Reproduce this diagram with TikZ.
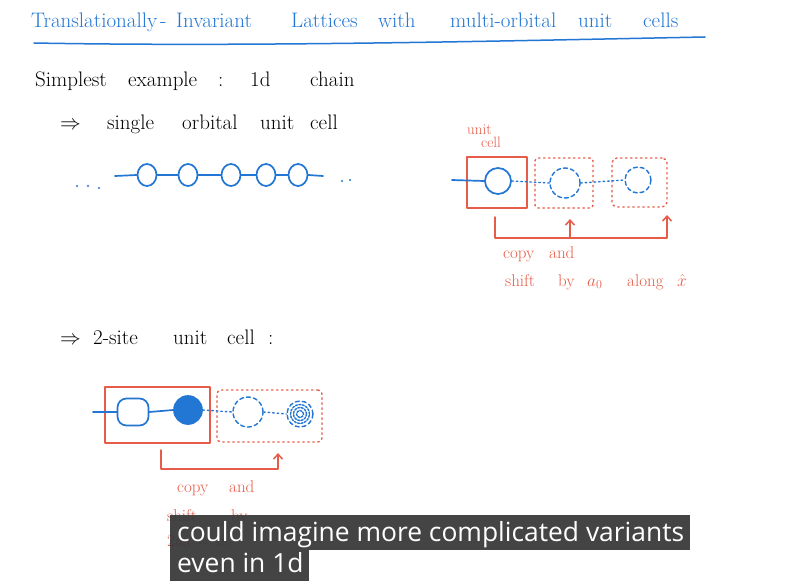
\documentclass[tikz,border=0pt]{standalone}
\usepackage{fontspec}
\newfontfamily\subfont{Open Sans}
\usetikzlibrary{arrows.meta,shapes.geometric}
\definecolor{penblue}{RGB}{34,118,212}
\definecolor{penred}{RGB}{230,92,72}
\definecolor{subbg}{RGB}{58,58,58}
\tikzset{
  hwb/.style={anchor=base west, inner sep=0pt, text=penblue, font=\fontsize{21}{25}\selectfont},
  hwk/.style={anchor=base west, inner sep=0pt, text=black, font=\fontsize{21}{24}\selectfont},
  hwr/.style={anchor=base west, inner sep=0pt, text=penred, font=\fontsize{17}{20}\selectfont},
  hwrs/.style={anchor=base west, inner sep=0pt, text=penred, font=\fontsize{15}{17}\selectfont},
  pen/.style={draw=penblue, line width=1.7pt, line cap=round, line join=round},
  penr/.style={draw=penred, line width=1.5pt, line cap=round, line join=round},
  dotb/.style={draw=penblue, line width=1.4pt, dash pattern=on 1.5pt off 3pt, line cap=round},
  dashb/.style={draw=penblue, line width=1.4pt, dash pattern=on 4pt off 3pt, line cap=round},
  dotr/.style={draw=penred, line width=1.4pt, dash pattern=on 1.5pt off 3.5pt, line cap=round},
  site/.style={ellipse, minimum width=19pt, minimum height=22pt, inner sep=0pt, pen},
  cellbox/.style={rectangle, inner sep=0pt, penr},
  uparrow/.style={penr, -{Straight Barb[length=5pt,width=9pt]}},
  subbox/.style={fill=subbg, fill opacity=0.95, draw=none},
  subtext/.style={anchor=base west, inner sep=0pt, text=white, font=\subfont\fontsize{26.4}{30}\selectfont}
}
\begin{document}
\begin{tikzpicture}[x=1pt,y=-1pt]
\useasboundingbox[fill=white] (0,0) rectangle (802,583);

% ---------- title ----------
\node[hwb] (t1) at (31,28) {Translationally};
\node[hwb] (t2) at (160,28) {-};
\node[hwb] (t3) at (176,28) {Invariant};
\node[hwb] (t4) at (291,28) {Lattices};
\node[hwb] (t5) at (378,28) {with};
\node[hwb] (t6) at (450,28) {multi-orbital};
\node[hwb] (t7) at (578,28) {unit};
\node[hwb] (t8) at (643,28) {cells};
\coordinate (ulA) at (34,43);
\coordinate (ulB) at (705,37);
\draw[pen, line width=1.5pt] (ulA) .. controls (250,47) and (500,41) .. (ulB);

% ---------- simplest example ----------
\node[hwk] (s1) at (35,87) {Simplest};
\node[hwk] (s2) at (128,87) {example};
\node[hwk] (s3) at (218,87) {:};
\node[hwk] (s4) at (250,87) {1d};
\node[hwk] (s5) at (310,87) {chain};

\node[hwk] (a1) at (60,129) {$\Rightarrow$};
\node[hwk] (a2) at (107,129) {single};
\node[hwk] (a3) at (182,129) {orbital};
\node[hwk] (a4) at (260,129) {unit};
\node[hwk] (a5) at (310,129) {cell};

% ---------- chain ----------
\node[site] (c1) at (147,175) {};
\node[site] (c2) at (188,175) {};
\node[site] (c3) at (231,175) {};
\node[site] (c4) at (266,175) {};
\node[site] (c5) at (298,175) {};
\coordinate (cL) at (115,176);
\coordinate (cR) at (323,176);
\draw[pen] (cL) -- (c1.west);
\draw[pen] (c1.east) -- (c2.west);
\draw[pen] (c2.east) -- (c3.west);
\draw[pen] (c3.east) -- (c4.west);
\draw[pen] (c4.east) -- (c5.west);
\draw[pen] (c5.east) -- (cR);
\foreach \x/\y in {77/186,88/186,99/188} \fill[penblue] (\x,\y) circle (1.2pt);
\foreach \x/\y in {342/181,350/180} \fill[penblue] (\x,\y) circle (1.2pt);

% ---------- right figure: single-orbital unit cell ----------
\node[hwrs] (u1) at (467,134) {unit};
\node[hwrs] (u2) at (481,147) {cell};
\node[cellbox, minimum width=60pt, minimum height=51pt] (ubox) at (497,182.5) {};
\node[dotr, rectangle, rounded corners=3pt, minimum width=58pt, minimum height=50pt] (ubox2) at (564,183) {};
\node[dotr, rectangle, rounded corners=5pt, minimum width=55pt, minimum height=49pt] (ubox3) at (639.5,182.5) {};
\node[circle, minimum size=26pt, inner sep=0pt, pen] (r1) at (498,181) {};
\node[circle, minimum size=30pt, inner sep=0pt, dashb] (r2) at (565,183) {};
\node[circle, minimum size=26pt, inner sep=0pt, dashb] (r3) at (638,180) {};
\coordinate (rL) at (452,180);
\draw[pen] (rL) -- (r1.west);
\draw[dotb] (r1.east) -- (r2.west);
\draw[dotb] (r2.east) -- (r3.west);
% bracket
\coordinate (bA) at (495,217);
\coordinate (bB) at (495,238);
\coordinate (bM) at (570,238);
\coordinate (bC) at (667,238);
\coordinate (bMt) at (570,219);
\coordinate (bCt) at (667,215);
\draw[uparrow] (bA) -- (bB) -- (bC) -- (bCt);
\draw[uparrow] (bM) -- (bMt);
\node[hwr] (k1) at (503,258) {copy};
\node[hwr] (k2) at (549,258) {and};
\node[hwr] (k3) at (505,286) {shift};
\node[hwr] (k4) at (558,286) {by};
\node[hwr] (k5) at (587,286) {$a_0$};
\node[hwr] (k6) at (627,286) {along};
\node[hwr] (k7) at (677,286) {$\hat{x}$};

% ---------- 2-site unit cell ----------
\node[hwk] (b1) at (60,344) {$\Rightarrow$};
\node[hwk] (b2) at (93,344) {2-site};
\node[hwk] (b3) at (173,344) {unit};
\node[hwk] (b4) at (227,344) {cell};
\node[hwk] (b5) at (268,344) {:};

\node[cellbox, minimum width=105pt, minimum height=56pt] (dbox) at (157.5,415) {};
\node[dotr, rectangle, rounded corners=4pt, minimum width=105pt, minimum height=52pt] (dbox2) at (269.5,416) {};
\node[rectangle, rounded corners=9pt, minimum width=31pt, minimum height=27pt, inner sep=0pt, pen] (d1) at (133,412) {};
\node[circle, minimum size=28pt, inner sep=0pt, pen, fill=penblue] (d2) at (188,410) {};
\node[circle, minimum size=30pt, inner sep=0pt, dashb] (d3) at (248,412) {};
\node[circle, minimum size=26pt, inner sep=0pt, dashb] (d4) at (300,414) {};
\foreach \r in {9.5,6.5,3.5} \draw[dashb, dash pattern=on 2pt off 1.5pt] (d4.center) circle (\r pt);
\coordinate (dL) at (93,412);
\draw[pen] (dL) -- (d1.west);
\draw[pen] (d1.east) -- (d2.west);
\draw[dotb] (d2.east) -- (d3.west);
\draw[dotb] (d3.east) -- (d4.west);
% bracket
\coordinate (eA) at (161,450);
\coordinate (eB) at (161,469);
\coordinate (eC) at (278,469);
\coordinate (eCt) at (278,453);
\draw[uparrow] (eA) -- (eB) -- (eC) -- (eCt);
\node[hwr] (m1) at (177,492) {copy};
\node[hwr] (m2) at (229,492) {and};
\node[hwr] (m3) at (167,521) {shift};
\node[hwr] (m4) at (231,521) {by};
\node[hwr] (m5) at (167,546) {$2a_0 =: a_0$};

% ---------- subtitle ----------
\fill[subbox] (170,515) rectangle (690,549.5);
\fill[subbox] (170,549.5) rectangle (309,581);
\node[subtext] (sub1) at (177,541) {could imagine more complicated variants};
\node[subtext] (sub2) at (177,572) {even in 1d};
\end{tikzpicture}
\end{document}
